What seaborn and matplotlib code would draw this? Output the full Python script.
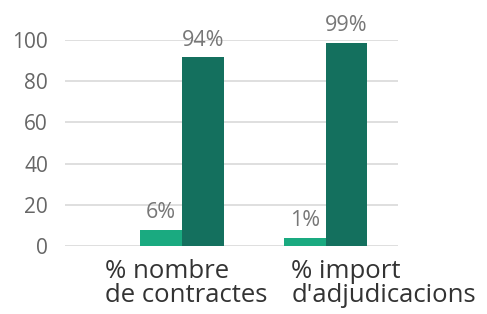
import matplotlib
matplotlib.use("Agg")
from matplotlib import pyplot as plt
from matplotlib.transforms import ScaledTranslation
import pandas as pd
import seaborn as sns

categories = ['% nombre\nde contractes', "% import\nd'adjudicacions"]
series = ['menor', 'resta']
menor_values = [7.9, 3.9]
resta_values = [91.3, 98.1]
menor_labels = ['6%', '1%']
resta_labels = ['94%', '99%']
y_ticks = [0, 20, 40, 60, 80, 100]

df = pd.DataFrame({
    'cat': categories * 2,
    'serie': [series[0]] * 2 + [series[1]] * 2,
    'val': menor_values + resta_values,
})

sns.set_style('white')
plt.rcParams['font.family'] = ['Open Sans', 'DejaVu Sans']

fig = plt.figure(figsize=(4.87, 3.14), dpi=100)
ax = fig.add_axes([0.1329, 0.2156, 0.6837, 0.6586])

sns.barplot(data=df, x='cat', y='val', hue='serie', palette=['#1aaa80', '#14705e'],
            width=0.578, saturation=1, linewidth=0, legend=False, ax=ax)

for cont, labs in zip(ax.containers, [menor_labels, resta_labels]):
    ax.bar_label(cont, labels=labs, padding=5, fontsize=15.5, color='#777777')

ax.set_xlim(-0.816, 1.501)
ax.set_ylim(0, 100)
ax.set_yticks(y_ticks)
ax.yaxis.grid(True, color='#d9d9d9', linewidth=1.2)
ax.set_axisbelow(True)
sns.despine(ax=ax, left=True, bottom=True)
ax.tick_params(axis='both', length=0)
ax.tick_params(axis='y', labelsize=15, labelcolor='#666666', pad=12)
ax.tick_params(axis='x', labelsize=18.5, labelcolor='#333333', pad=9)
ax.set_xlabel('')
ax.set_ylabel('')

# labels sit a bit to the right of the groups in the original
shifts = [4.5, 58]
for lab, dx in zip(ax.get_xticklabels(), shifts):
    lab.set_multialignment('left')
    lab.set_linespacing(0.95)
    lab.set_transform(lab.get_transform() + ScaledTranslation(dx / 100, 0, fig.dpi_scale_trans))

fig.savefig('out.png', dpi=100)
